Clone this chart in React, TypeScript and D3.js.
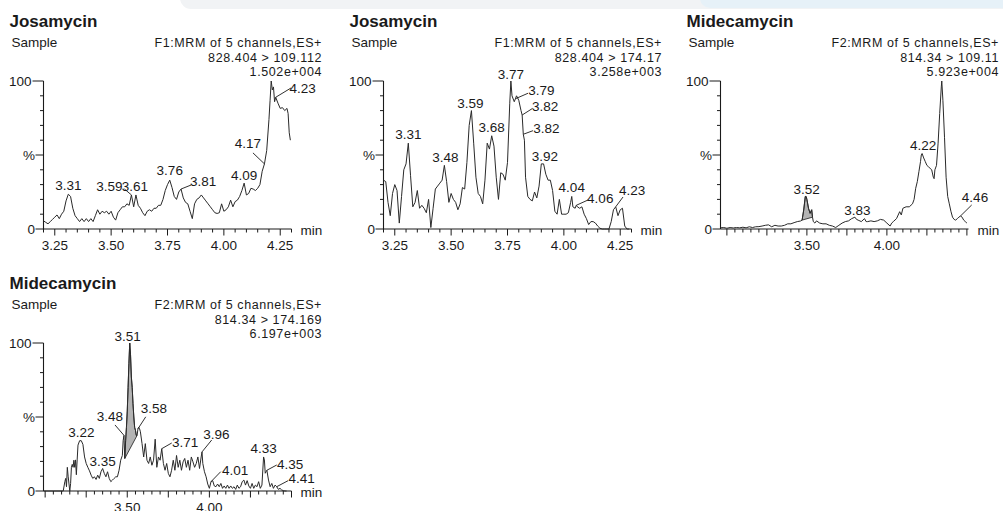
import React from 'react';
import * as d3 from 'd3';

type Pt = [number, number];
type Peak = [string, number, number];

// ---- traces: [retention time (min), relative intensity (%)] ----
const josa109: Pt[] = [
  [3.20, 5.5], [3.21, 4.5], [3.22, 3.5], [3.23, 5], [3.24, 6.5], [3.25, 8], [3.26, 9.5], [3.27, 7], [3.28, 10], [3.29, 12],
  [3.30, 19], [3.31, 23.5], [3.32, 22], [3.33, 14], [3.34, 9], [3.35, 7], [3.36, 5], [3.37, 7], [3.38, 5], [3.39, 7],
  [3.40, 5], [3.41, 7], [3.42, 5], [3.43, 9], [3.44, 13], [3.45, 10], [3.46, 12], [3.47, 11], [3.48, 12], [3.49, 10],
  [3.50, 12], [3.51, 8], [3.52, 6], [3.53, 11], [3.54, 13], [3.55, 15], [3.56, 15], [3.57, 17], [3.58, 16], [3.59, 23],
  [3.60, 15], [3.61, 23], [3.62, 16], [3.63, 14], [3.64, 11], [3.65, 9], [3.66, 12], [3.67, 13], [3.68, 12], [3.69, 14],
  [3.70, 14], [3.71, 16], [3.72, 16], [3.73, 20], [3.74, 26], [3.75, 30], [3.76, 33], [3.77, 28], [3.78, 22], [3.79, 20],
  [3.80, 25], [3.81, 27], [3.82, 21], [3.83, 18], [3.84, 17], [3.85, 12], [3.86, 7], [3.87, 17], [3.88, 20], [3.89, 21],
  [3.90, 23], [3.91, 21], [3.92, 19], [3.93, 17], [3.94, 15], [3.95, 13], [3.96, 11], [3.97, 10.5], [3.98, 11], [3.99, 17],
  [4.00, 12], [4.01, 13], [4.02, 15], [4.03, 19.5], [4.04, 15], [4.05, 18.5], [4.06, 19.5], [4.07, 22], [4.08, 26], [4.09, 31],
  [4.10, 23], [4.11, 24], [4.12, 27.5], [4.13, 27], [4.14, 26], [4.15, 27.5], [4.16, 30], [4.17, 39], [4.18, 44], [4.19, 53],
  [4.20, 74], [4.205, 87], [4.21, 100], [4.215, 94], [4.22, 96], [4.225, 86], [4.23, 89], [4.24, 85], [4.25, 81.5], [4.26, 82],
  [4.27, 80], [4.28, 81.5], [4.285, 78], [4.29, 65], [4.295, 60],
];

const josa174: Pt[] = [
  [3.20, 33], [3.21, 32], [3.22, 18], [3.23, 9], [3.24, 24], [3.25, 30], [3.26, 26], [3.27, 4], [3.28, 22], [3.29, 40],
  [3.30, 44], [3.31, 58], [3.32, 36], [3.33, 15], [3.34, 18], [3.35, 26], [3.36, 14], [3.37, 16], [3.38, 14], [3.39, 11],
  [3.40, 20], [3.41, 1], [3.42, 14], [3.43, 27], [3.44, 29], [3.45, 31], [3.46, 33], [3.47, 43], [3.48, 32], [3.49, 18],
  [3.50, 24], [3.51, 20], [3.52, 18], [3.53, 13], [3.54, 17], [3.55, 28], [3.56, 27], [3.57, 45], [3.58, 70], [3.59, 80],
  [3.60, 58], [3.61, 35], [3.62, 24], [3.63, 22], [3.64, 17], [3.65, 33], [3.66, 58], [3.67, 54], [3.68, 63], [3.69, 56],
  [3.70, 35], [3.71, 20], [3.72, 38], [3.73, 37], [3.74, 33], [3.75, 45], [3.76, 85], [3.765, 100], [3.77, 90], [3.78, 86],
  [3.785, 88], [3.79, 90], [3.80, 87], [3.81, 80], [3.815, 77], [3.82, 64], [3.825, 60], [3.83, 35], [3.84, 22], [3.85, 20],
  [3.86, 19], [3.87, 25], [3.88, 21], [3.89, 29], [3.90, 44], [3.91, 44], [3.92, 37], [3.93, 33], [3.94, 33], [3.95, 26],
  [3.96, 12], [3.97, 10], [3.98, 20], [3.99, 10], [4.00, 10], [4.01, 10], [4.02, 11], [4.03, 18], [4.035, 22], [4.04, 15],
  [4.05, 14], [4.055, 16], [4.06, 15], [4.07, 14], [4.08, 15], [4.09, 10], [4.10, 7], [4.11, 3], [4.12, 5], [4.13, 5],
  [4.14, 4], [4.15, 2], [4.16, 0.5], [4.17, 0], [4.18, 0], [4.19, 0], [4.20, 0], [4.21, 5], [4.22, 13], [4.23, 15],
  [4.24, 9], [4.25, 13], [4.26, 14], [4.27, 2], [4.28, 0], [4.29, 0],
];

const mide109: Pt[] = [
  [2.96, 0.8], [2.98, 1], [3.00, 0.5], [3.02, 1], [3.04, 0.7], [3.06, 1], [3.08, 0.8], [3.10, 1.2], [3.12, 0.8], [3.14, 1.5],
  [3.16, 1], [3.18, 1.5], [3.20, 1.6], [3.22, 2], [3.24, 2.5], [3.26, 2.8], [3.28, 1.5], [3.30, 2.5], [3.32, 2], [3.34, 2],
  [3.36, 2.5], [3.38, 3.5], [3.40, 3.5], [3.42, 4.3], [3.44, 5], [3.46, 5.4], [3.47, 6], [3.48, 12.8], [3.49, 22], [3.495, 22],
  [3.50, 20], [3.51, 14], [3.52, 10.6], [3.53, 13], [3.535, 8], [3.54, 5], [3.55, 4], [3.56, 5.5], [3.58, 4], [3.60, 3.5],
  [3.62, 3.5], [3.64, 2.5], [3.66, 2], [3.68, 1], [3.70, 2.5], [3.72, 4], [3.74, 5], [3.76, 5.5], [3.78, 7], [3.80, 8],
  [3.81, 6.5], [3.82, 6], [3.84, 5], [3.86, 7], [3.87, 5], [3.88, 5], [3.90, 5.5], [3.92, 5], [3.94, 5.5], [3.96, 6.5],
  [3.98, 6], [4.00, 4], [4.02, 2], [4.03, 4], [4.04, 5], [4.06, 7], [4.08, 11.7], [4.09, 9.5], [4.10, 14], [4.12, 15],
  [4.14, 15], [4.16, 17], [4.17, 20], [4.18, 27.5], [4.19, 32], [4.20, 38.7], [4.21, 45.5], [4.215, 50], [4.22, 51], [4.23, 48],
  [4.24, 45.5], [4.25, 43], [4.26, 42], [4.27, 41], [4.28, 40], [4.29, 35], [4.295, 34], [4.30, 40], [4.31, 43], [4.32, 58],
  [4.33, 78], [4.34, 96], [4.343, 100], [4.35, 87], [4.36, 62], [4.37, 35], [4.38, 22], [4.39, 17], [4.40, 12], [4.41, 8],
  [4.42, 6.5], [4.43, 6], [4.44, 7], [4.45, 8], [4.46, 8.8], [4.47, 8], [4.48, 6], [4.49, 5], [4.50, 4],
];

const mide174: Pt[] = [
  [2.99, 0], [3.05, 0], [3.11, 0], [3.12, 6.3], [3.125, 8.5], [3.13, 2.9], [3.135, 16], [3.14, 10], [3.15, 0], [3.155, 5],
  [3.16, 16], [3.165, 18], [3.17, 16], [3.175, 20.8], [3.18, 16], [3.185, 21], [3.19, 11], [3.195, 21], [3.20, 31], [3.21, 34],
  [3.22, 34], [3.23, 31.5], [3.24, 23], [3.25, 18.6], [3.26, 16], [3.27, 13.6], [3.28, 10.7], [3.29, 8.5], [3.30, 9.6], [3.31, 7.8],
  [3.32, 10.7], [3.33, 8.5], [3.34, 13], [3.35, 15.2], [3.36, 11.9], [3.37, 9.6], [3.38, 13], [3.39, 8.5], [3.40, 6.3], [3.41, 7.4],
  [3.42, 8.5], [3.43, 9.6], [3.44, 9.6], [3.45, 14], [3.46, 20.8], [3.47, 24], [3.475, 34], [3.48, 37.6], [3.485, 22], [3.49, 34],
  [3.495, 43], [3.50, 54], [3.505, 70], [3.51, 86], [3.515, 100], [3.52, 92], [3.525, 77], [3.53, 70], [3.535, 59], [3.54, 50],
  [3.545, 43], [3.55, 41], [3.555, 37.6], [3.56, 37.6], [3.565, 42], [3.57, 43], [3.575, 42], [3.58, 40], [3.59, 32], [3.60, 23],
  [3.61, 32], [3.62, 20.8], [3.63, 18.6], [3.64, 23], [3.65, 17.4], [3.66, 20.8], [3.67, 35], [3.68, 16], [3.69, 23], [3.70, 20.8],
  [3.71, 28.6], [3.72, 18.6], [3.73, 14], [3.74, 18.6], [3.75, 11.9], [3.76, 9.6], [3.77, 14], [3.78, 20.8], [3.79, 14], [3.80, 24],
  [3.81, 16], [3.82, 20.8], [3.83, 14], [3.84, 19.7], [3.85, 22], [3.86, 16], [3.87, 20.8], [3.88, 14], [3.89, 23], [3.90, 19.7],
  [3.91, 16], [3.92, 18.6], [3.93, 23], [3.94, 15.2], [3.95, 23], [3.955, 26.4], [3.96, 18.6], [3.97, 13], [3.98, 9.6], [3.99, 4.7],
  [4.00, 1.8], [4.01, 6.3], [4.02, 7], [4.03, 3.4], [4.04, 2.9], [4.05, 4.7], [4.06, 2.9], [4.07, 5.1], [4.08, 1.8], [4.09, 3.4],
  [4.10, 1.8], [4.11, 4], [4.12, 1.8], [4.13, 3.4], [4.14, 1.8], [4.15, 2.9], [4.16, 1.1], [4.17, 4], [4.18, 1.8], [4.19, 2.9],
  [4.20, 6.3], [4.21, 7.4], [4.22, 4], [4.23, 7], [4.24, 3.4], [4.25, 1.8], [4.26, 5.1], [4.27, 1.8], [4.28, 4], [4.29, 2.9],
  [4.30, 6.3], [4.31, 1.8], [4.32, 4], [4.33, 23], [4.335, 21], [4.34, 12], [4.345, 13], [4.35, 14], [4.36, 7.4], [4.37, 2.9],
  [4.38, 5.1], [4.39, 1.8], [4.40, 4], [4.41, 2.9], [4.42, 1.1], [4.43, 1.8], [4.44, 0.7], [4.45, 0.3], [4.46, 0], [4.47, 0],
];

// ---- headers ----
const titles = ['Josamycin', 'Josamycin', 'Midecamycin', 'Midecamycin'];
const functionLines = [
  'F1:MRM of 5 channels,ES+',
  'F1:MRM of 5 channels,ES+',
  'F2:MRM of 5 channels,ES+',
  'F2:MRM of 5 channels,ES+',
];
const transitions = ['828.404 > 109.112', '828.404 > 174.17', '814.34 > 109.11', '814.34 > 174.169'];
const intensities = ['1.502e+004', '3.258e+003', '5.923e+004', '6.197e+003'];
const timeRanges: [number, number][] = [[3.2, 4.3], [3.2, 4.3], [2.96, 4.51], [2.99, 4.5]];
const tickLabels = [
  [3.25, 3.5, 3.75, 4.0, 4.25],
  [3.25, 3.5, 3.75, 4.0, 4.25],
  [3.5, 4.0],
  [3.5, 4.0],
];

// ---- peak labels: [text, time, intensity] ----
const josa109Peaks: Peak[] = [
  ['3.31', 3.31, 23.5], ['3.59', 3.59, 23], ['3.61', 3.61, 23], ['3.76', 3.76, 33],
  ['3.81', 3.81, 27], ['4.09', 4.09, 31], ['4.17', 4.18, 44], ['4.23', 4.23, 89],
];
const josa174Peaks: Peak[] = [
  ['3.31', 3.31, 58], ['3.48', 3.47, 43], ['3.59', 3.59, 80], ['3.68', 3.68, 63],
  ['3.77', 3.765, 100], ['3.79', 3.785, 88], ['3.82', 3.815, 77], ['3.82', 3.82, 64],
  ['3.92', 3.905, 44], ['4.04', 4.035, 22], ['4.06', 4.055, 16], ['4.23', 4.23, 15],
];
const mide109Peaks: Peak[] = [
  ['3.52', 3.495, 22], ['3.83', 3.80, 8], ['4.22', 4.22, 51], ['4.46', 4.46, 8.8],
];
const mide174Peaks: Peak[] = [
  ['3.22', 3.215, 34], ['3.35', 3.35, 15.2], ['3.48', 3.48, 37.6], ['3.51', 3.515, 100],
  ['3.58', 3.565, 42], ['3.71', 3.71, 28.6], ['3.96', 3.955, 26.4], ['4.01', 4.01, 6.3],
  ['4.33', 4.33, 23], ['4.35', 4.35, 14], ['4.41', 4.41, 2.9],
];

// integrated (shaded) peaks: [start, end] in min
const mide109Fill: [number, number] = [3.47, 3.535];
const mide174Fill: [number, number] = [3.485, 3.56];

// ---- layout ----
const panelOrigins: [number, number][] = [[0, 0], [340, 0], [677, 0], [0, 262]];
// label offsets from peak: [dx, dy] for text, optional [ex, ey] end of leader line
const josa109Layout = [[0, -4], [-22, -4, -7, -6], [-1, -4], [0, -5], [22, -3, 10, -4], [0, -3], [-16.5, -15.6, -11.5, -11], [27, -4, 15.3, -9.3]];
const josa174Layout = [[0, -4], [1, -3], [-1, -2.5], [0, -4], [0, -2], [26, -4, 12.6, -5.5], [23, -4, 10.5, -6.7], [23, -1.5, 9.7, -3.6], [2.5, -2.5], [0, -4.5], [24, -2.3, 11.7, -5.3], [16.3, -11.8, 7.3, -9.8]];
const mide109Layout = [[0.5, -2], [2.5, -2.5], [1, -4], [14.5, -14, 11.2, -11]];
const mide174Layout = [[1, -4], [0, -2.5], [-14, -14.4, -9, -10.4], [-2, -2], [16, -16, 7.8, -12], [23.3, -2, 10, -5.7], [14.3, -12.9, 9.7, -11.9], [24, -6.7, 9.7, -10], [0, -4], [23.2, -1.3, 9.9, -5.3], [24.8, -4, 11.3, -6]];

const traces = [josa109, josa174, mide109, mide174];
const peakSets = [josa109Peaks, josa174Peaks, mide109Peaks, mide174Peaks];
const layouts = [josa109Layout, josa174Layout, mide109Layout, mide174Layout];
const fills: ([number, number] | null)[] = [null, null, mide109Fill, mide174Fill];

const FONT = "'Liberation Sans', Arial, Helvetica, sans-serif";
const INK = '#1a1a1a';

function Panel({ i }: { i: number }) {
  const [ox, oy] = panelOrigins[i];
  const [t0, t1] = timeRanges[i];
  const x = d3.scaleLinear().domain([t0, t1]).range([43.5, 291.5]);
  const y = d3.scaleLinear().domain([0, 100]).range([229, 81]);
  const line = d3.line<Pt>().x(d => x(d[0])).y(d => y(d[1]));
  const data = traces[i];
  const fill = fills[i];
  const fillPath = fill
    ? line(data.filter(d => d[0] >= fill[0] - 1e-9 && d[0] <= fill[1] + 1e-9)) + 'Z'
    : null;

  const minor = d3.range(Math.ceil(t0 * 20 - 1e-9), Math.floor(t1 * 20 + 1e-9) + 1).map(k => k / 20);
  const fmt = d3.format('.2f');
  const y0 = y(0);

  return (
    <g transform={`translate(${ox},${oy})`} fontFamily={FONT} fill={INK}>
      <text x={9.5} y={27} fontSize={17} fontWeight="bold">{titles[i]}</text>
      <text x={11.5} y={46.5} fontSize={13.5}>Sample</text>
      <g fontSize={12.5} letterSpacing={0.6} textAnchor="end">
        <text x={322} y={46.5}>{functionLines[i]}</text>
        <text x={322} y={61.5}>{transitions[i]}</text>
        <text x={322} y={75.5}>{intensities[i]}</text>
      </g>

      {/* y axis */}
      <line x1={x(t0)} x2={x(t0)} y1={y(0)} y2={y(100)} stroke={INK} strokeWidth={1.1} />
      {d3.range(0, 101, 10).map(v => {
        const len = v === 100 ? 11 : v === 0 || v === 50 ? 8 : 3.5;
        return <line key={v} x1={x(t0) - len} x2={x(t0)} y1={y(v)} y2={y(v)} stroke={INK} strokeWidth={1} />;
      })}
      <text x={x(t0) - 12} y={y(100) + 4.5} fontSize={13.5} textAnchor="end">100</text>
      <text x={x(t0) - 8.5} y={y(50) + 4.5} fontSize={13.5} textAnchor="end">%</text>
      <text x={x(t0) - 8.5} y={y(0) + 4.5} fontSize={13.5} textAnchor="end">0</text>

      {/* x axis */}
      <line x1={x(t0)} x2={x(t1)} y1={y0} y2={y0} stroke={INK} strokeWidth={1.1} />
      {minor.map(t => {
        const long = Math.abs(t * 4 - Math.round(t * 4)) < 1e-6;
        return <line key={t} x1={x(t)} x2={x(t)} y1={y0} y2={y0 + (long ? 6.5 : 3.5)} stroke={INK} strokeWidth={1} />;
      })}
      {tickLabels[i].map(t => (
        <text key={t} x={x(t)} y={y0 + 21} fontSize={13.5} textAnchor="middle">{fmt(t)}</text>
      ))}
      <text x={x(t1) + 9} y={y0 + 5.5} fontSize={13.5}>min</text>

      {/* trace */}
      {fillPath && <path d={fillPath} fill="#b4b4b4" stroke={INK} strokeWidth={0.8} />}
      <path d={line(data) ?? ''} fill="none" stroke="#2a2a2a" strokeWidth={1} strokeLinejoin="round" />

      {/* peak labels */}
      {peakSets[i].map(([txt, t, v], k) => {
        const [dx, dy, ex, ey] = layouts[i][k];
        const ax = x(t);
        const ay = y(v);
        return (
          <g key={k}>
            {ex !== undefined && (
              <line x1={ax} y1={ay} x2={ax + ex} y2={ay + (ey as number)} stroke={INK} strokeWidth={0.9} />
            )}
            <text x={ax + dx} y={ay + dy} fontSize={13.5} textAnchor="middle">{txt}</text>
          </g>
        );
      })}
    </g>
  );
}

export default function App() {
  return (
    <svg
      width={1003}
      height={511}
      viewBox="0 0 1003 511"
      style={{ position: 'absolute', left: 0, top: 0, background: '#fff' }}
    >
      <rect x={0} y={0} width={1003} height={511} fill="#fff" />
      <rect x={180} y={-14} width={840} height={23} rx={11} fill="#f1f3f5" />
      <rect x={700} y={-14} width={320} height={22} rx={10} fill="#e6f1f8" />
      {titles.map((_, i) => <Panel key={i} i={i} />)}
    </svg>
  );
}
